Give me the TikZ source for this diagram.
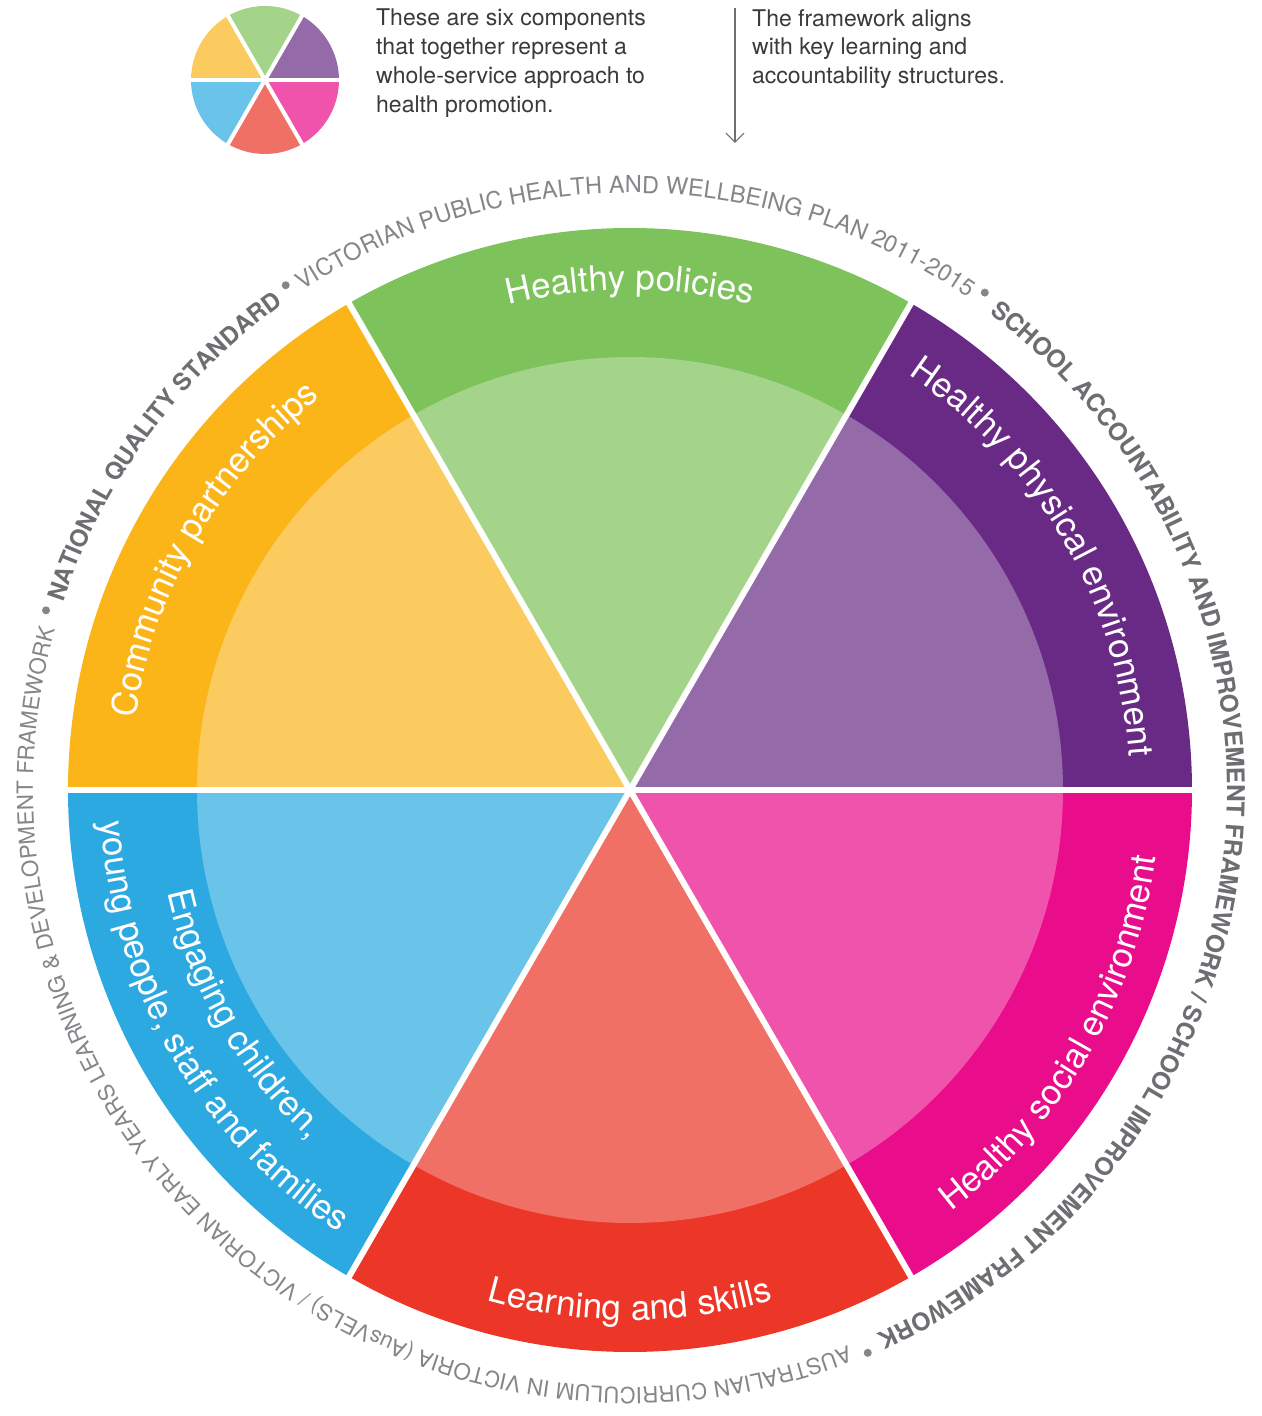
\documentclass[tikz,border=0pt]{standalone}
\usepackage{fontspec}
\setmainfont{TeX Gyre Heros}
\usepackage{tikz}
\usetikzlibrary{arrows.meta, decorations.text}
\usepackage{xcolor}

\definecolor{grnD}{HTML}{7DC25B}
\definecolor{grnL}{HTML}{A3D48A}
\definecolor{orgD}{HTML}{FBB518}
\definecolor{orgL}{HTML}{FBCB5F}
\definecolor{purD}{HTML}{692A85}
\definecolor{purL}{HTML}{956AA9}
\definecolor{pnkD}{HTML}{E90C8B}
\definecolor{pnkL}{HTML}{EF53AB}
\definecolor{redD}{HTML}{EC3627}
\definecolor{redL}{HTML}{F07066}
\definecolor{bluD}{HTML}{2CA9E1}
\definecolor{bluL}{HTML}{6AC3E8}
\definecolor{txtD}{HTML}{3A3A3A}
\definecolor{ringB}{HTML}{6D6E71}
\definecolor{ringL}{HTML}{85868A}

\newcommand\lblfont{\fontsize{35}{42}\selectfont\color{white}}
\newcommand\ringfnt[2]{\fontsize{#1}{#1}\selectfont\color{#2}}

\begin{document}
\begin{tikzpicture}[x=1pt, y=1pt,
	arctext/.style={decorate, decoration={text along path, text align=center, text={#1}}},
	sepline/.style={white, line width=#1},
	topnote/.style={anchor=north west, align=left, inner sep=0pt,
		font=\fontsize{23}{28.8}\selectfont, text=txtD}]
			% 画布范围
			\useasboundingbox (-630,-626) rectangle (631,790);
			
			% 六个扇形:外环深色,内圆浅色
			\foreach \a/\cd/\cl in {0/purD/purL, 60/grnD/grnL, 120/orgD/orgL,
				180/bluD/bluL, 240/redD/redL, 300/pnkD/pnkL} {
				\fill[\cd] (0,0) -- (\a:562pt) arc[start angle=\a, delta angle=60, radius=562pt] -- cycle;
				\fill[\cl] (0,0) -- (\a:433pt) arc[start angle=\a, delta angle=60, radius=433pt] -- cycle;
			}
			\foreach \a in {0,60,...,300}
				\draw[sepline=6pt] (0,0) -- (\a:570pt);
			
			% 左上角小图标
			\begin{scope}[shift={(-365,710)}]
				\foreach \a/\cl in {0/purL, 60/grnL, 120/orgL, 180/bluL, 240/redL, 300/pnkL}
					\fill[\cl] (0,0) -- (\a:74pt) arc[start angle=\a, delta angle=60, radius=74pt] -- cycle;
				\foreach \a in {0,60,...,300}
					\draw[sepline=4pt] (0,0) -- (\a:80pt);
			\end{scope}
			
			% 说明文字
			\node[topnote] (intro) at (-254,781) {These are six components\\that together represent a\\whole-service approach to\\health promotion.};
			\node[topnote] (aligns) at (122,781) {The framework aligns\\with key learning and\\accountability structures.};
			
			% 箭头
			\coordinate (arrtop) at (105,782);
			\coordinate (arrtip) at (105,647);
			\draw[ringB, line width=1.2pt, -{Straight Barb[length=9pt, width=18pt]}] (arrtop) -- (arrtip);
			
			% 外圈文字
			\path[arctext={|\ringfnt{24}{ringB}\bfseries|NATIONAL QUALITY STANDARD}]
				(162.9:597pt) arc[start angle=162.9, end angle=124.3, radius=597pt];
			\path[arctext={|\ringfnt{23.5}{ringL}|VICTORIAN PUBLIC HEALTH AND WELLBEING PLAN 2011-2015}]
				(124.3:597pt) arc[start angle=124.3, end angle=54.5, radius=597pt];
			\path[arctext={|\ringfnt{24.5}{ringB}\bfseries|SCHOOL ACCOUNTABILITY AND IMPROVEMENT FRAMEWORK / SCHOOL IMPROVEMENT FRAMEWORK}]
				(54.5:597pt) arc[start angle=54.5, end angle=-67.1, radius=597pt];
			\path[arctext={|\ringfnt{22.3}{ringL}|AUSTRALIAN CURRICULUM IN VICTORIA (AusVELS) / VICTORIAN EARLY YEARS LEARNING {\&} DEVELOPMENT FRAMEWORK}]
				(-67.1:597pt) arc[start angle=-67.1, end angle=-197.1, radius=597pt];
			
			% 圆点分隔
			\foreach \a in {162.9,124.3,54.5,-67.1}
				\fill[ringL] (\a:611pt) circle[radius=4pt];
			
			% 扇形标签(上半顺时针,下半逆时针)
			\path[arctext={|\lblfont|Healthy policies}]
				(120:500pt) arc[start angle=120, end angle=60, radius=500pt];
			\path[arctext={|\lblfont|Community partnerships}]
				(180:500pt) arc[start angle=180, end angle=120, radius=500pt];
			\path[arctext={|\lblfont|Healthy physical environment}]
				(60:500pt) arc[start angle=60, end angle=0, radius=500pt];
			\path[arctext={|\lblfont|Healthy social environment}]
				(-60:530pt) arc[start angle=-60, end angle=0, radius=530pt];
			\path[arctext={|\lblfont|Learning and skills}]
				(-120:530pt) arc[start angle=-120, end angle=-60, radius=530pt];
			\path[arctext={|\lblfont|Engaging children,}]
				(180:474pt) arc[start angle=180, end angle=240, radius=474pt];
			\path[arctext={|\lblfont|young people, staff and families}]
				(180:530pt) arc[start angle=180, end angle=240, radius=530pt];
		\end{tikzpicture}
\end{document}
